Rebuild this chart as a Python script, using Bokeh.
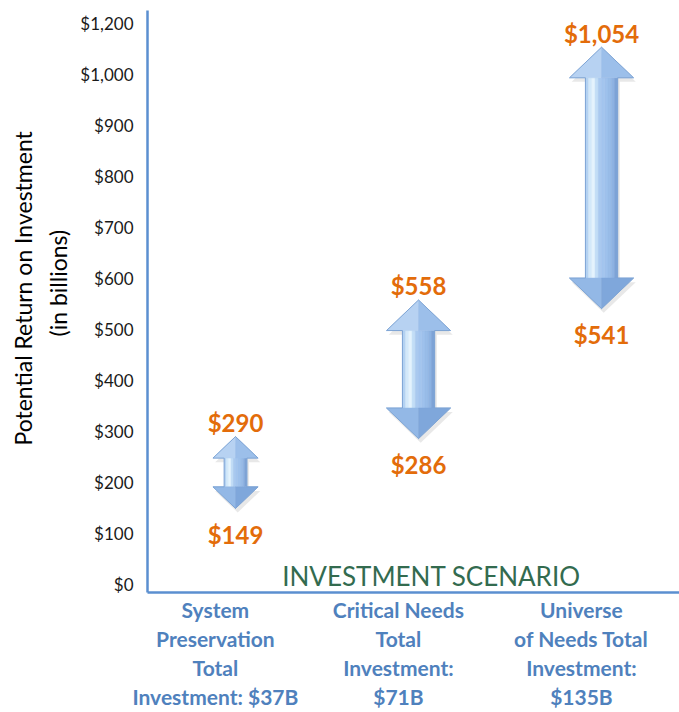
import numpy as np
from bokeh.plotting import figure
from bokeh.models import FixedTicker, Label, Range1d, Title
from bokeh.core.properties import value
from bokeh.embed import file_html
from bokeh.resources import INLINE

# ---------------- data ----------------
categories = [
    "System\nPreservation\nTotal\nInvestment: $37B",
    "Critical Needs\nTotal\nInvestment:\n$71B",
    "Universe\nof Needs Total\nInvestment:\n$135B",
]
low_values = [149, 286, 541]
high_values = [290, 558, 1054]
low_labels = ["$149", "$286", "$541"]
high_labels = ["$290", "$558", "$1,054"]
y_tick_values = [0, 100, 200, 300, 400, 500, 600, 700, 800, 900, 1000, 1100]
y_tick_labels = ["$0", "$100", "$200", "$300", "$400", "$500", "$600",
                 "$700", "$800", "$900", "$1,000", "$1,200"]
x_title = "INVESTMENT SCENARIO"
y_title_1 = "Potential Return on Investment"
y_title_2 = "(in billions)"

# ---------------- style ----------------
FONT = "Lato"
AXIS_COLOR = "#5B8FD0"
ORANGE = "#E36C0A"
CAT_BLUE = "#4F81BD"
GREEN = "#336B4F"
HEAD_LEN = 60.0
HEAD_HALF = 0.175
SHAFT_HALF = 0.088
LABEL_SHIFT = -0.11

xpos = [i + 1 for i in range(len(categories))]

p = figure(width=679, height=712, output_backend="svg", toolbar_location=None,
           x_range=Range1d(0.519, 3.426), y_range=Range1d(-16, 1126),
           min_border_left=147, min_border_right=0, min_border_top=10,
           min_border_bottom=120)
p.outline_line_color = None
p.grid.visible = False
p.background_fill_color = "white"
p.border_fill_color = "white"

# y axis
p.yaxis.ticker = FixedTicker(ticks=y_tick_values)
p.yaxis.major_label_overrides = {v: l for v, l in zip(y_tick_values, y_tick_labels)}
p.yaxis.major_tick_line_color = None
p.yaxis.minor_tick_line_color = None
p.yaxis.axis_line_color = AXIS_COLOR
p.yaxis.axis_line_width = 2.5
p.yaxis.major_label_text_font = FONT
p.yaxis.major_label_text_font_size = "17px"
p.yaxis.major_label_text_color = "#1a1a1a"
p.yaxis.major_label_standoff = 8

# x axis
tick_pos = [round(x + LABEL_SHIFT, 2) for x in xpos]
p.xaxis.ticker = FixedTicker(ticks=tick_pos)
p.xaxis.major_label_overrides = {t: c for t, c in zip(tick_pos, categories)}
p.xaxis.major_tick_line_color = None
p.xaxis.minor_tick_line_color = None
p.xaxis.axis_line_color = AXIS_COLOR
p.xaxis.axis_line_width = 2.5
p.xaxis.major_label_text_font = FONT
p.xaxis.major_label_text_font_style = "bold"
p.xaxis.major_label_text_font_size = "21px"
p.xaxis.major_label_text_color = CAT_BLUE
p.xaxis.major_label_text_line_height = 1.17
p.xaxis.major_label_standoff = -2

# ---------------- arrows ----------------
shaft_colors = ["#B4D2F2", "#D3E9FA", "#E4F3FD", "#C2DDF6", "#A9C9EF",
                "#A3C5EE", "#9EC1EC", "#98BCE8", "#8EB3E2", "#7DA3D6"]

sh_xs, sh_ys = [], []
part_xs, part_ys, part_cols = [], [], []
out_xs, out_ys = [], []
for cx, lo, hi in zip(xpos, low_values, high_values):
    s = min(1.0, 0.3 * (hi - lo) / HEAD_LEN)
    h, hw, sw = HEAD_LEN * s, HEAD_HALF * s, SHAFT_HALF * s
    px = [cx, cx + hw, cx + sw, cx + sw, cx + hw, cx, cx - hw, cx - sw, cx - sw, cx - hw]
    py = [hi, hi - h, hi - h, lo + h, lo + h, lo, lo + h, lo + h, hi - h, hi - h]
    sh_xs.append([x + 0.012 for x in px])
    sh_ys.append([y - 8 for y in py])
    out_xs.append(px)
    out_ys.append(py)
    n = len(shaft_colors)
    edges = np.linspace(cx - sw, cx + sw, n + 1)
    for i in range(n):
        part_xs.append([edges[i], edges[i + 1], edges[i + 1], edges[i]])
        part_ys.append([lo + h, lo + h, hi - h, hi - h])
        part_cols.append(shaft_colors[i])
    part_xs += [[cx, cx - hw, cx], [cx, cx + hw, cx]]
    part_ys += [[hi, hi - h, hi - h], [hi, hi - h, hi - h]]
    part_cols += ["#B7D2F2", "#9CBFEA"]
    part_xs += [[cx, cx - hw, cx], [cx, cx + hw, cx]]
    part_ys += [[lo, lo + h, lo + h], [lo, lo + h, lo + h]]
    part_cols += ["#93B8E6", "#7FA7DB"]

p.patches(sh_xs, sh_ys, fill_color="#808080", fill_alpha=0.18, line_color=None)
p.patches(part_xs, part_ys, fill_color=part_cols, line_color=part_cols, line_width=0.5)
p.patches(out_xs, out_ys, fill_color=None, line_color="#7EA4D4", line_width=1)

# value labels
p.text(x=xpos, y=high_values, text=high_labels, y_offset=-14,
       text_font=value(FONT), text_font_style="bold", text_font_size="24px",
       text_color=ORANGE, text_align="center", text_baseline="middle")
p.text(x=xpos, y=low_values, text=low_labels, y_offset=26,
       text_font=value(FONT), text_font_style="bold", text_font_size="24px",
       text_color=ORANGE, text_align="center", text_baseline="middle")

# x title inside the frame
p.add_layout(Label(x=284, y=1, x_units="screen", y_units="screen", text=x_title,
                   text_font=FONT, text_font_size="26px", text_color=GREEN,
                   text_align="center", text_baseline="bottom"))

# y title (two lines) as side titles
t2 = Title(text=y_title_2, align="left", offset=256, text_font=FONT,
           text_font_size="23px", text_font_style="normal", text_color="#000000",
           standoff=12)
t1 = Title(text=y_title_1, align="left", offset=147, text_font=FONT,
           text_font_size="23px", text_font_style="normal", text_color="#000000",
           standoff=-3)
p.add_layout(t2, "left")
p.add_layout(t1, "left")

open("out.html", "w").write(file_html(p, INLINE))
